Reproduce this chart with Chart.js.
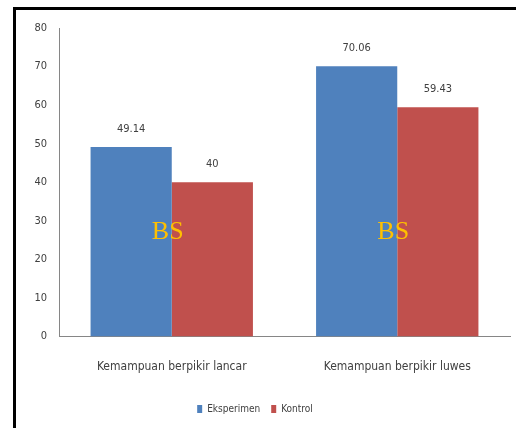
<!DOCTYPE html>
<html>
<head>
<meta charset="utf-8">
<script src="https://cdn.jsdelivr.net/npm/chart.js@4.4.0/dist/chart.umd.min.js"></script>
<style>
  body { margin: 0; background: #fff; }
  .frame {
    position: absolute; left: 13px; top: 7px; width: 503px; height: 421px;
    border-left: 3px solid #000; border-top: 3px solid #000;
  }
  .wrap { position: absolute; left: 0; top: 0; width: 516px; height: 428px; }
</style>
</head>
<body>
<div class="frame"></div>
<div class="wrap"><canvas id="bars"></canvas></div>
<script>
// data
var categories = ['Kemampuan berpikir lancar', 'Kemampuan berpikir luwes'];
var eksperimen = [49.14, 70.06];
var kontrol = [40, 59.43];
var valueLabels = [['49.14', '70.06'], ['40', '59.43']];
var yTicks = [0, 10, 20, 30, 40, 50, 60, 70, 80];
var stamp = 'BS';
var stampAt = 27;

var narrow = "'DejaVu Sans Condensed', 'Liberation Sans Narrow', sans-serif";

// labels over the bars + the BS stamp
var barText = {
  id: 'barText',
  afterDatasetsDraw: function(chart) {
    var ctx = chart.ctx;
    ctx.save();
    ctx.font = '11px ' + narrow;
    ctx.fillStyle = '#404040';
    ctx.textAlign = 'center';
    ctx.textBaseline = 'middle';
    chart.data.datasets.forEach(function(ds, d) {
      chart.getDatasetMeta(d).data.forEach(function(bar, i) {
        ctx.fillText(valueLabels[d][i], bar.x, bar.y - 18);
      });
    });
    var xs = chart.scales.x, ys = chart.scales.y;
    ctx.font = '26px "Liberation Serif", "Times New Roman", serif';
    ctx.fillStyle = '#FFC000';
    categories.forEach(function(c, i) {
      ctx.fillText(stamp, xs.getPixelForValue(i) - 4, ys.getPixelForValue(stampAt));
    });
    ctx.restore();
  }
};

var ctx = document.getElementById('bars').getContext('2d');

var myBarChart = new Chart(ctx, {
  type: 'bar',
  data: {
    labels: categories,
    datasets: [
      { label: 'Eksperimen', data: eksperimen, backgroundColor: '#4F81BD' },
      { label: 'Kontrol', data: kontrol, backgroundColor: '#C0504D' }
    ]
  },
  options: {
    responsive: true,
    maintainAspectRatio: false,
    animation: false,
    categoryPercentage: 0.72,
    barPercentage: 1,
    layout: { padding: { left: 0, right: 6, top: 28, bottom: 4 } },
    plugins: {
      tooltip: { enabled: false },
      legend: {
        position: 'bottom',
        labels: {
          boxWidth: 5, boxHeight: 8, padding: 11,
          color: '#404040',
          font: { family: narrow, size: 10 }
        }
      }
    },
    scales: {
      x: {
        afterFit: function(s) { s.height += 4; },
        grid: { display: false },
        border: { display: true, color: '#868686', width: 1 },
        ticks: { color: '#404040', padding: 15, font: { family: narrow, size: 12 } }
      },
      y: {
        min: 0, max: 80,
        afterFit: function(s) { s.width = 59; },
        afterBuildTicks: function(s) { s.ticks = yTicks.map(function(v) { return { value: v }; }); },
        grid: { display: false },
        border: { display: true, color: '#868686', width: 1 },
        ticks: { color: '#404040', padding: 4, font: { family: narrow, size: 11 } }
      }
    }
  },
  plugins: [barText]
});
</script>
</body>
</html>
